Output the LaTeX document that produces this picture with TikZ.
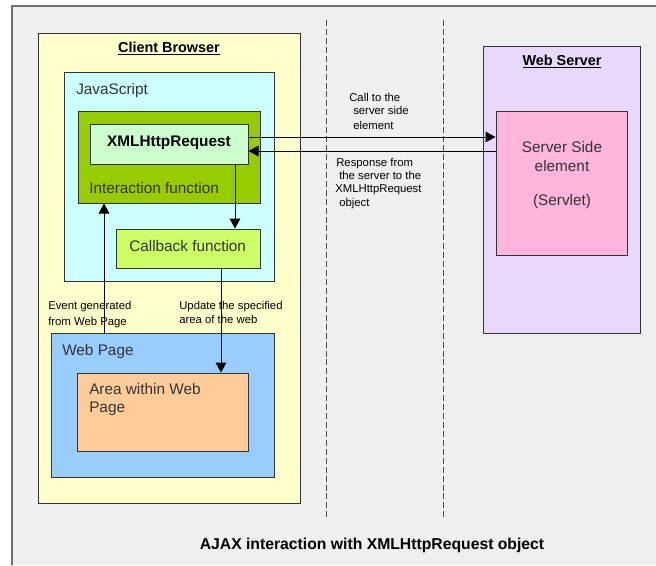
\documentclass[tikz,border=0pt]{standalone}
\usepackage{fontspec}
\setmainfont{Liberation Sans}
\usetikzlibrary{arrows.meta,fit}
\definecolor{bgc}{HTML}{EFEFEF}
\definecolor{framec}{HTML}{707070}
\definecolor{edgec}{HTML}{333333}
\definecolor{cbc}{HTML}{FFFFCC}
\definecolor{jsc}{HTML}{CCFFFF}
\definecolor{interc}{HTML}{99CC00}
\definecolor{xhrc}{HTML}{CCFFCC}
\definecolor{cbkc}{HTML}{CCFF66}
\definecolor{wpc}{HTML}{99CCFF}
\definecolor{areac}{HTML}{FFCC99}
\definecolor{wsc}{HTML}{E8D8FC}
\definecolor{ssc}{HTML}{FFB5DC}
\definecolor{txtc}{HTML}{333333}
\begin{document}
\begin{tikzpicture}[x=0.75pt,y=-0.75pt,
  box/.style={draw=edgec,line width=0.75pt,inner sep=0pt},
  big/.style={inner sep=0pt,text=txtc,font=\fontsize{11.5}{13.5}\selectfont},
  head/.style={inner sep=0pt,font=\fontsize{10.8}{13}\selectfont\bfseries},
  small/.style={inner sep=0pt,font=\fontsize{8.5}{12}\selectfont},
  arr/.style={draw=black,line width=0.75pt,-{Triangle[length=7.5pt,width=8pt]}},
  divider/.style={draw=black!70,line width=0.75pt,dash pattern=on 4.5pt off 2.2pt}]
\useasboundingbox (0,0) rectangle (656,565);
\fill[white] (0,0) rectangle (656,565);
\fill[bgc] (12,6) rectangle (656,565);
\draw[framec,line width=1.5pt] (12,565) -- (12,6) -- (656,6);
% dividers
\draw[divider] (326,20) -- (326,517);
\draw[divider] (443,20) -- (443,517);
% client side boxes
\node[box,fill=cbc,fit={(38,33) (300,503)}] (cb) {};
\node[box,fill=jsc,fit={(64,72) (274,281)}] (js) {};
\node[box,fill=interc,fit={(78,111) (260,203)}] (inter) {};
\node[box,fill=xhrc,fit={(90,124) (248,164)}] (xhr) {};
\node[box,fill=cbkc,fit={(116,229) (260,268)}] (cbk) {};
\node[box,fill=wpc,fit={(51,333) (274,477)}] (wp) {};
\node[box,fill=areac,fit={(77,373) (248,451)}] (area) {};
% server side boxes
\node[box,fill=wsc,fit={(483,46) (640,333)}] (ws) {};
\node[box,fill=ssc,fit={(496,111) (627,255)}] (ss) {};
% texts
\node[head,anchor=base] (cbt) at (169,52) {\underline{Client Browser}};
\node[big,anchor=base west] (jst) at (76,94) {JavaScript};
\node[big,anchor=base,text=black,font=\fontsize{11.5}{13.5}\selectfont\bfseries] (xhrt) at (169,146) {XMLHttpRequest};
\node[big,anchor=base west] (intert) at (89,193) {Interaction function};
\node[big,anchor=base west] (cbkt) at (129,251) {Callback function};
\node[big,anchor=base west] (wpt) at (62,355) {Web Page};
\node[big,anchor=base west] (area1) at (89,394) {Area within Web};
\node[big,anchor=base west] (area2) at (89,412) {Page};
\node[head,anchor=base] (wst) at (562,65) {\underline{Web Server}};
\node[big,anchor=base] (ss1) at (562,152) {Server Side};
\node[big,anchor=base] (ss2) at (562,171) {element};
\node[big,anchor=base] (ss3) at (562,205) {(Servlet)};
% small labels
\node[small,anchor=base west] (ev1) at (48,309) {Event generated};
\node[small,anchor=base west] (ev2) at (48,325) {from Web Page};
\node[small,anchor=base west] (up1) at (179,309) {Update the specified};
\node[small,anchor=base west] (up2) at (179,323) {area of the web};
\node[small,anchor=base west] (call1) at (349,101) {Call to the};
\node[small,anchor=base west] (call2) at (353,114) {server side};
\node[small,anchor=base west] (call3) at (353,129) {element};
\node[small,anchor=base west] (rs1) at (336,166) {Response from};
\node[small,anchor=base west] (rs2) at (339,179) {the server to the};
\node[small,anchor=base west] (rs3) at (335,192) {XMLHttpRequest};
\node[small,anchor=base west] (rs4) at (339,206) {object};
\node[inner sep=0pt,anchor=base,font=\fontsize{11.8}{14}\selectfont\bfseries] (title) at (372,549) {AJAX interaction with XMLHttpRequest object};
% connector helper coordinates
\coordinate (ycall) at (0,137);
\coordinate (yresp) at (0,151);
\coordinate (xdown) at (235,0);
\coordinate (xup) at (104,0);
\coordinate (xupd) at (221,0);
% connectors
\draw[arr] (xhr.east |- ycall) -- (ss.west |- ycall);
\draw[arr] (ss.west |- yresp) -- (xhr.east |- yresp);
\draw[arr] (xdown |- xhr.south) -- (xdown |- cbk.north);
\draw[arr] (xup |- wp.north) -- (xup |- inter.south);
\draw[arr] (xupd |- cbk.south) -- (xupd |- area.north);
\end{tikzpicture}
\end{document}
